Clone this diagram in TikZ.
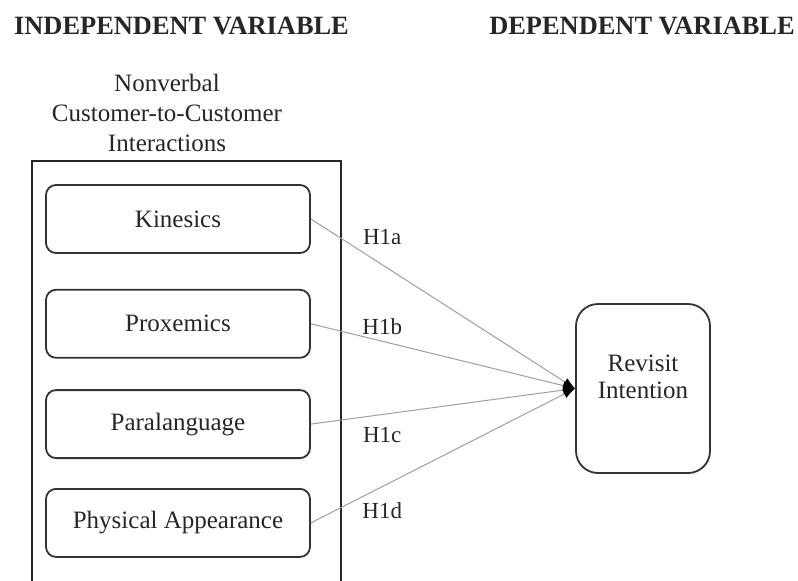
\documentclass[tikz,border=0pt]{standalone}
\usepackage{fontspec}
\setmainfont{Liberation Serif}
\usetikzlibrary{arrows.meta,positioning}

\begin{document}
\begin{tikzpicture}[
  x=1pt, y=-1pt,
  node distance=30.5pt,
  font=\fontsize{25}{30}\selectfont,
  every node/.style={text=black!85},
  head/.style={font=\fontsize{26.4}{30}\selectfont\bfseries},
  dimbox/.style={draw=black!80, line width=1.8pt, rounded corners=10pt, minimum width=264pt, minimum height=68pt},
  depbox/.style={draw=black!80, line width=1.8pt, rounded corners=22pt, minimum width=134pt, minimum height=169pt},
  frame/.style={draw=black!85, line width=2pt},
  hyp/.style={inner sep=0pt, font=\fontsize{23}{26}\selectfont},
  arr/.style={-{Latex[length=12pt,width=9pt,color=black]}, draw=gray!75, line width=1pt}
]
\useasboundingbox (0,0) rectangle (798,581);
\node[head] (indep) at (181.5,26) {INDEPENDENT VARIABLE};
\node[head] (dep) at (642,26) {DEPENDENT VARIABLE};
\node[align=center] (title) at (167,113) {Nonverbal\\Customer-to-Customer\\Interactions};
\draw[frame] (32,581) |- (341,161) -- (341,581);
\node[dimbox] (kinesics) at (178,219) {Kinesics};
\node[dimbox, below=35pt of kinesics] (proxemics) {Proxemics};
\node[dimbox, below=of proxemics] (paralanguage) {Paralanguage};
\node[dimbox, below=29pt of paralanguage] (appearance) {Physical Appearance};
\node[depbox, label={[align=center, yshift=12pt, font=\fontsize{25}{27}\selectfont]center:Revisit\\Intention}] (revisit) at (643,388.5) {};
\draw[arr] (kinesics.east) -- node[hyp, pos=.27, above=20pt] {H1a} (revisit.west);
\draw[arr] (proxemics.east) -- node[hyp, pos=.27, above=6pt] {H1b} (revisit.west);
\draw[arr] (paralanguage.east) -- node[hyp, pos=.27, below=12pt] {H1c} (revisit.west);
\draw[arr] (appearance.east) -- node[hyp, pos=.27, below=15pt] {H1d} (revisit.west);
\end{tikzpicture}
\end{document}
